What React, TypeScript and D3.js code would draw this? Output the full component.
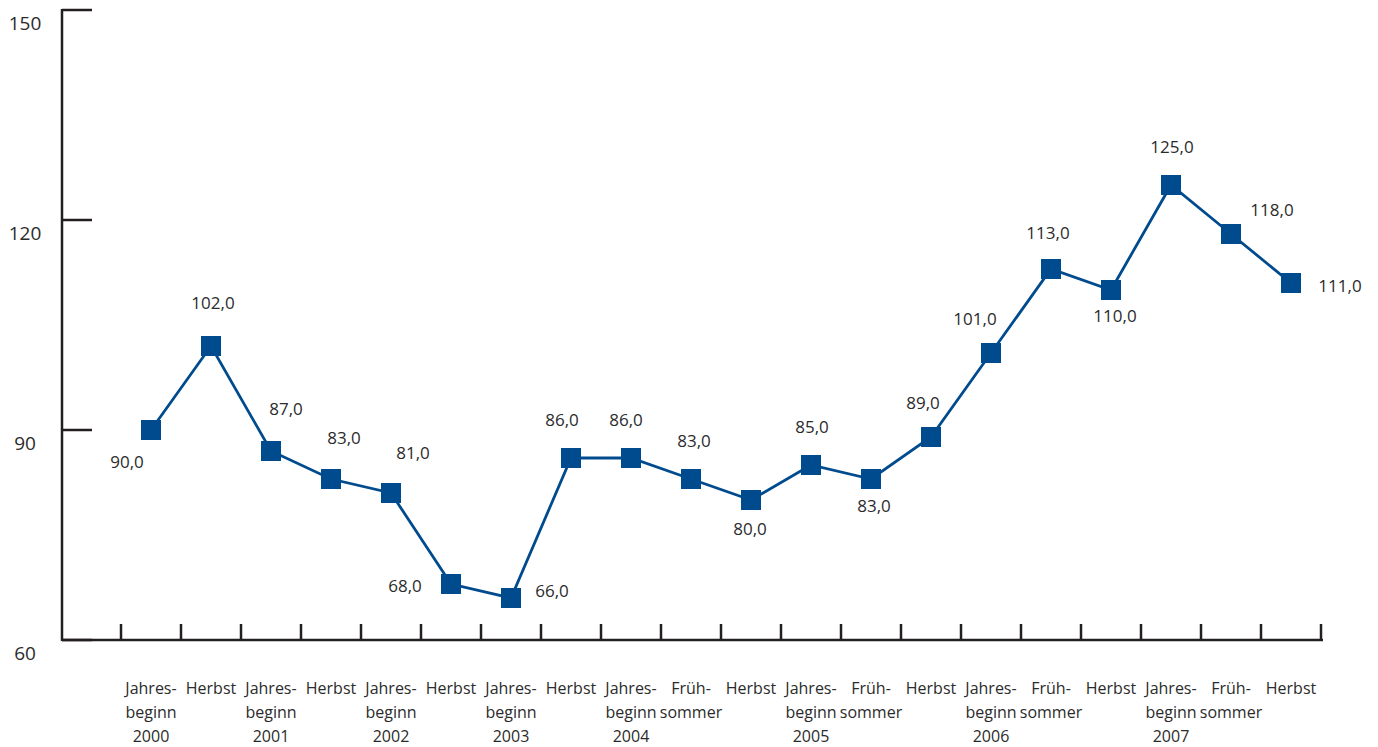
import React from "react";
import * as d3 from "d3";

const categories: string[][] = [
  ["Jahres-", "beginn", "2000"], ["Herbst"],
  ["Jahres-", "beginn", "2001"], ["Herbst"],
  ["Jahres-", "beginn", "2002"], ["Herbst"],
  ["Jahres-", "beginn", "2003"], ["Herbst"],
  ["Jahres-", "beginn", "2004"], ["Früh-", "sommer"], ["Herbst"],
  ["Jahres-", "beginn", "2005"], ["Früh-", "sommer"], ["Herbst"],
  ["Jahres-", "beginn", "2006"], ["Früh-", "sommer"], ["Herbst"],
  ["Jahres-", "beginn", "2007"], ["Früh-", "sommer"], ["Herbst"],
];

const values: number[] = [
  90, 102, 87, 83, 81, 68, 66, 86, 86, 83, 80, 85, 83, 89, 101, 113, 110, 125, 118, 111,
];

const yTicks: number[] = [60, 90, 120, 150];

// label placement offsets relative to each point (layout only)
const labelOffsets: [number, number][] = [
  [-24, 33], [2, -42], [15, -41], [13, -40], [22, -39], [-46, 3], [41, -6],
  [-9, -37], [-5, -37], [3, -37], [-1, 30], [1, -37], [3, 28], [-8, -33],
  [-16, -33], [-3, -35], [4, 27], [1, -37], [41, -23], [49, 4],
];

const W = 1378;
const H = 747;
const axisColor = "#231f20";
const lineColor = "#004b8d";
const textColor = "#2b2b2b";
const font = "'Open Sans', sans-serif";

export default function App() {
  const idx = categories.map((_, i) => String(i));
  const x = d3.scaleBand<string>().domain(idx).range([121, 1321]);
  const y = d3.scaleLinear().domain([60, 150]).range([640, 10]);
  const cx = (i: number) => (x(String(i)) as number) + x.bandwidth() / 2;

  const line = d3
    .line<number>()
    .x((_, i) => cx(i))
    .y((d) => y(d));

  const tickXs = d3.range(categories.length + 1).map((i) => 121 + i * x.bandwidth());

  return (
    <svg
      width={W}
      height={H}
      style={{ position: "absolute", left: 0, top: 0, background: "#fff" }}
      fontFamily={font}
    >
      {/* Y axis */}
      <line x1={62} x2={62} y1={y(150) - 1} y2={y(60) + 1} stroke={axisColor} strokeWidth={2.5} />
      {yTicks.map((t) => (
        <g key={t}>
          <line x1={62} x2={92} y1={y(t)} y2={y(t)} stroke={axisColor} strokeWidth={2.5} />
          <text
            x={25}
            y={y(t) + 15}
            textAnchor="middle"
            dominantBaseline="middle"
            fontSize={19}
            fill={textColor}
          >
            {t}
          </text>
        </g>
      ))}
      {/* X axis */}
      <line x1={62} x2={1323} y1={y(60)} y2={y(60)} stroke={axisColor} strokeWidth={2.5} />
      {tickXs.map((tx, i) => (
        <line key={i} x1={tx} x2={tx} y1={y(60)} y2={y(60) - 16} stroke={axisColor} strokeWidth={2.5} />
      ))}
      {categories.map((lines, i) => (
        <text key={i} textAnchor="middle" fontSize={16} fill={textColor}>
          {lines.map((l, j) => (
            <tspan key={j} x={cx(i)} y={694 + j * 24}>
              {l}
            </tspan>
          ))}
        </text>
      ))}
      {/* Line */}
      <path d={line(values) || ""} fill="none" stroke={lineColor} strokeWidth={2.8} />
      {values.map((v, i) => (
        <rect key={i} x={cx(i) - 10} y={y(v) - 10} width={20} height={20} fill={lineColor} />
      ))}
      {values.map((v, i) => (
        <text
          key={i}
          x={cx(i) + labelOffsets[i][0]}
          y={y(v) + labelOffsets[i][1]}
          textAnchor="middle"
          dominantBaseline="middle"
          fontSize={17}
          fill={textColor}
        >
          {d3.format(".1f")(v).replace(".", ",")}
        </text>
      ))}
    </svg>
  );
}
